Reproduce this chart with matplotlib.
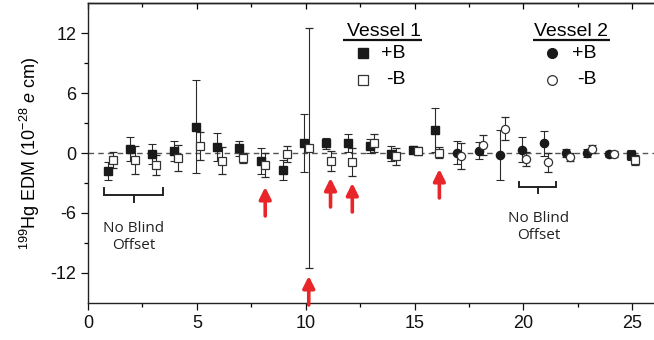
import matplotlib
matplotlib.use("Agg")
import matplotlib.pyplot as plt
import numpy as np

plt.rcParams['font.family'] = ['Liberation Sans', 'DejaVu Sans']
plt.rcParams['mathtext.fontset'] = 'custom'
plt.rcParams['mathtext.rm'] = 'Liberation Sans'
plt.rcParams['mathtext.it'] = 'Liberation Sans:italic'
plt.rcParams['axes.unicode_minus'] = False

# ---- data ----
v1_runs = [1, 2, 3, 4, 5, 6, 7, 8, 9, 10, 11, 12, 13, 14, 15, 16, 25]
v1_plus = [-1.8, 0.4, -0.07, 0.23, 2.63, 0.6, 0.47, -0.83, -1.7, 1.03, 0.97, 0.97, 0.7, -0.07, 0.33, 2.27, -0.2]
v1_plus_err = [0.9, 1.25, 1.0, 1.0, 4.67, 1.37, 0.73, 1.3, 1.0, 2.9, 0.57, 0.9, 0.7, 0.77, 0.4, 2.2, 0.53]
v1_minus = [-0.7, -0.67, -1.2, -0.5, 0.7, -0.77, -0.5, -1.2, -0.13, 0.5, -0.8, -0.9, 0.97, -0.33, 0.2, 0.03, -0.7]
v1_minus_err = [0.85, 1.4, 1.0, 1.27, 1.4, 1.33, 0.5, 1.2, 0.8, 12.0, 1.05, 1.37, 0.9, 0.87, 0.4, 0.57, 0.5]

v2_runs = [17, 18, 19, 20, 21, 22, 23, 24]
v2_plus = [0.03, 0.23, -0.17, 0.33, 0.97, 0.0, -0.03, -0.07]
v2_plus_err = [1.17, 0.87, 2.5, 1.23, 1.27, 0.4, 0.4, 0.3]
v2_minus = [-0.3, 0.77, 2.43, -0.6, -0.93, -0.37, 0.4, -0.07]
v2_minus_err = [1.33, 1.0, 1.13, 0.67, 0.97, 0.4, 0.4, 0.3]

arrow_runs = [8, 10, 11, 12, 16]
arrow_tips = [-3.4, -12.3, -2.5, -3.0, -1.6]

xticks = [0, 5, 10, 15, 20, 25]
yticks = [-12, -6, 0, 6, 12]

# ---- figure ----
fig = plt.figure(figsize=(6.54, 3.40), dpi=100)
ax = fig.add_axes([0.1346, 0.109, 0.8654, 0.882])

ecol = '#2a2a2a'
dx_p, dx_m = -0.06, 0.14
ms = 5.6
ekw = dict(ecolor=ecol, elinewidth=0.8, capsize=2.6, capthick=0.8, linestyle='none', zorder=3)

ax.axhline(0, color='#555555', lw=1.0, ls=(0, (4, 3)), zorder=1)

ax.errorbar(np.array(v1_runs) + dx_p, v1_plus, yerr=v1_plus_err, fmt='s', ms=ms,
            mfc='#1a1a1a', mec='#1a1a1a', **ekw)
ax.errorbar(np.array(v1_runs) + dx_m, v1_minus, yerr=v1_minus_err, fmt='s', ms=ms,
            mfc='white', mec='#333333', mew=0.9, **ekw)
ax.errorbar(np.array(v2_runs) + dx_p, v2_plus, yerr=v2_plus_err, fmt='o', ms=ms + 0.3,
            mfc='#1a1a1a', mec='#1a1a1a', **ekw)
ax.errorbar(np.array(v2_runs) + dx_m, v2_minus, yerr=v2_minus_err, fmt='o', ms=ms + 0.3,
            mfc='white', mec='#333333', mew=0.9, **ekw)

# red arrows
for r, tip in zip(arrow_runs, arrow_tips):
    ax.annotate('', xy=(r + dx_m, tip), xytext=(r + dx_m, tip - 2.9),
                arrowprops=dict(arrowstyle='-|>,head_length=0.7,head_width=0.35',
                                color='#e8262a', lw=2.6, shrinkA=0, shrinkB=0),
                zorder=5)

# brackets
def bracket(x0, x1, ytop, ybot, ytick):
    ax.plot([x0, x0, x1, x1], [ytop, ybot, ybot, ytop], color='#222222', lw=1.4,
            solid_joinstyle='miter', zorder=2)
    xm = (x0 + x1) / 2
    ax.plot([xm, xm], [ybot, ytick], color='#222222', lw=1.4, zorder=2)

bracket(0.75, 3.43, -3.5, -4.2, -4.9)
bracket(19.82, 21.5, -2.9, -3.45, -4.0)

nb_font = ['Open Sans', 'DejaVu Sans']
ax.text(2.1, -6.8, 'No Blind\nOffset', ha='center', va='top', fontsize=11,
        family=nb_font, linespacing=1.2, color='#222222')
ax.text(20.7, -5.8, 'No Blind\nOffset', ha='center', va='top', fontsize=11,
        family=nb_font, linespacing=1.2, color='#222222')

# custom legend
for xc, x0, x1, title, mk, xm, xtr in [
        (13.6, 11.7, 15.35, 'Vessel 1', 's', 12.62, 14.6),
        (22.2, 20.43, 24.0, 'Vessel 2', 'o', 21.3, 23.37)]:
    ax.text(xc, 12.2, title, ha='center', va='center', fontsize=14)
    ax.plot([x0, x1], [11.35, 11.35], color='#111111', lw=1.6, solid_capstyle='butt')
    ax.plot([xm], [10.0], marker=mk, ms=7, mfc='#1a1a1a', mec='#1a1a1a', ls='none')
    ax.plot([xm], [7.35], marker=mk, ms=7, mfc='white', mec='#333333', mew=0.9, ls='none')
    ax.text(xtr, 10.0, '+B', ha='right', va='center', fontsize=14)
    ax.text(xtr, 7.35, '-B', ha='right', va='center', fontsize=14)

# axes styling
ax.set_xlim(0, 26.0)
ax.set_ylim(-15, 15)
ax.set_xticks(xticks)
ax.set_yticks(yticks)
ax.set_xticks(np.arange(2.5, 26, 5), minor=True)
ax.set_yticks([-9, -3, 3, 9], minor=True)
ax.tick_params(axis='both', which='major', direction='out', length=5, width=0.9,
               labelsize=13, colors='#111111')
ax.tick_params(axis='both', which='minor', direction='out', length=3, width=0.9)
ax.spines['right'].set_visible(False)
for s in ['left', 'bottom', 'top']:
    ax.spines[s].set_linewidth(1.0)
    ax.spines[s].set_color('#222222')

sec = ax.secondary_xaxis('top')
sec.set_xticks(xticks)
sec.set_xticks(np.arange(2.5, 26, 5), minor=True)
sec.tick_params(which='both', direction='in', labeltop=False, length=4, width=0.9)
sec.tick_params(which='minor', length=3)
sec.spines['top'].set_linewidth(1.0)

ax.set_ylabel(r'$^{199}$Hg EDM (10$^{-28}$ $e$ cm)', fontsize=13, labelpad=6)

fig.savefig('out.png', dpi=100)
